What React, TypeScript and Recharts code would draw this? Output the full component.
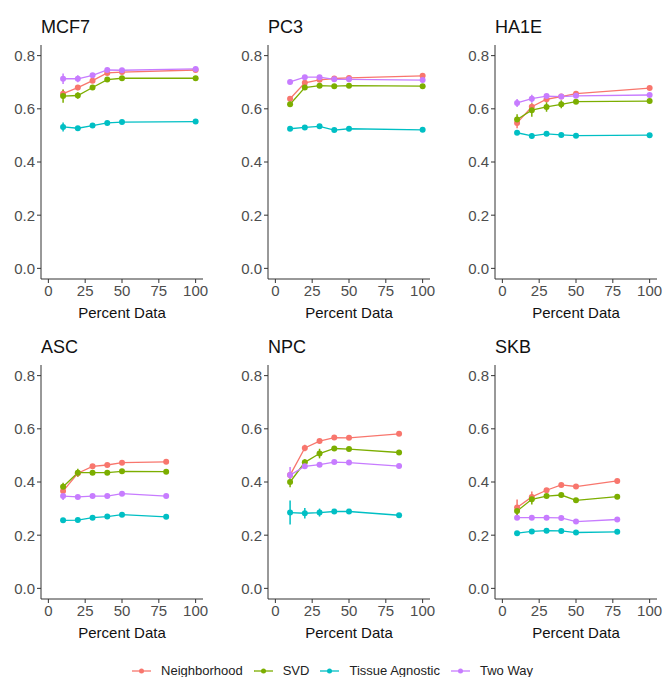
import { ErrorBar, Line, LineChart, XAxis, YAxis } from "recharts";

const FONT = "'Liberation Sans', Arial, sans-serif";

// 面板与各系列的数据
const PANELS = ["MCF7", "PC3", "HA1E", "ASC", "NPC", "SKB"];

const PERCENT = [
  [10, 20, 30, 40, 50, 100],
  [10, 20, 30, 40, 50, 100],
  [10, 20, 30, 40, 50, 100],
  [10, 20, 30, 40, 50, 80],
  [10, 20, 30, 40, 50, 84],
  [10, 20, 30, 40, 50, 78],
];

const NEIGHBORHOOD = [
  [0.657, 0.68, 0.706, 0.735, 0.738, 0.746],
  [0.638, 0.698, 0.709, 0.714, 0.716, 0.724],
  [0.547, 0.608, 0.636, 0.646, 0.657, 0.678],
  [0.366, 0.433, 0.459, 0.464, 0.4725, 0.476],
  [0.426, 0.528, 0.554, 0.567, 0.566, 0.581],
  [0.304, 0.344, 0.369, 0.389, 0.383, 0.404],
];
const SVD = [
  [0.648, 0.65, 0.68, 0.71, 0.715, 0.715],
  [0.617, 0.68, 0.687, 0.685, 0.687, 0.685],
  [0.56, 0.595, 0.607, 0.617, 0.627, 0.629],
  [0.382, 0.435, 0.435, 0.435, 0.44, 0.439],
  [0.4, 0.474, 0.507, 0.526, 0.524, 0.511],
  [0.291, 0.335, 0.347, 0.351, 0.331, 0.345],
];
const TISSUE_AGNOSTIC = [
  [0.532, 0.527, 0.537, 0.547, 0.55, 0.552],
  [0.525, 0.53, 0.534, 0.52, 0.525, 0.521],
  [0.51, 0.498, 0.506, 0.502, 0.499, 0.501],
  [0.256, 0.257, 0.266, 0.27, 0.277, 0.269],
  [0.285, 0.2825, 0.285, 0.289, 0.289, 0.275],
  [0.2075, 0.214, 0.217, 0.216, 0.21, 0.2125],
];
const TWO_WAY = [
  [0.713, 0.713, 0.726, 0.746, 0.745, 0.75],
  [0.701, 0.719, 0.719, 0.711, 0.711, 0.708],
  [0.622, 0.638, 0.648, 0.646, 0.649, 0.652],
  [0.347, 0.344, 0.347, 0.347, 0.356, 0.347],
  [0.426, 0.459, 0.465, 0.475, 0.473, 0.46],
  [0.266, 0.266, 0.266, 0.265, 0.251, 0.259],
];

// 误差线半长
const NEIGHBORHOOD_ERR = [
  [0.015, 0.01, 0.008, 0.005, 0.005, 0.004],
  [0.01, 0.008, 0.005, 0.004, 0.004, 0.004],
  [0.02, 0.012, 0.01, 0.005, 0.005, 0.004],
  [0.01, 0.012, 0.006, 0.005, 0.005, 0.004],
  [0.01, 0.012, 0.008, 0.006, 0.005, 0.004],
  [0.03, 0.02, 0.008, 0.006, 0.005, 0.004],
];
const SVD_ERR = [
  [0.025, 0.012, 0.008, 0.005, 0.004, 0.004],
  [0.01, 0.008, 0.005, 0.004, 0.004, 0.004],
  [0.02, 0.025, 0.018, 0.015, 0.006, 0.004],
  [0.015, 0.015, 0.006, 0.005, 0.004, 0.004],
  [0.02, 0.012, 0.018, 0.008, 0.005, 0.004],
  [0.015, 0.02, 0.006, 0.006, 0.005, 0.004],
];
const TISSUE_AGNOSTIC_ERR = [
  [0.017, 0.006, 0.005, 0.004, 0.004, 0.004],
  [0.006, 0.005, 0.005, 0.004, 0.004, 0.004],
  [0.008, 0.01, 0.006, 0.005, 0.005, 0.004],
  [0.005, 0.005, 0.005, 0.004, 0.004, 0.004],
  [0.045, 0.02, 0.015, 0.008, 0.006, 0.004],
  [0.008, 0.006, 0.006, 0.006, 0.004, 0.004],
];
const TWO_WAY_ERR = [
  [0.02, 0.013, 0.008, 0.005, 0.005, 0.004],
  [0.008, 0.005, 0.005, 0.004, 0.004, 0.004],
  [0.015, 0.015, 0.008, 0.005, 0.005, 0.004],
  [0.015, 0.006, 0.005, 0.005, 0.004, 0.004],
  [0.03, 0.01, 0.006, 0.005, 0.005, 0.004],
  [0.008, 0.008, 0.006, 0.005, 0.004, 0.004],
];

const X_TICKS = [0, 25, 50, 75, 100];
const Y_TICKS = [0, 0.2, 0.4, 0.6, 0.8];

const SERIES = [
  { key: "n", name: "Neighborhood", color: "#F8766D" },
  { key: "s", name: "SVD", color: "#7CAE00" },
  { key: "t", name: "Tissue Agnostic", color: "#00BFC4" },
  { key: "w", name: "Two Way", color: "#C77CFF" },
];

const PLOT_W = 162;
const PLOT_H = 234;
const Y_AXIS_W = 35;
const X_AXIS_H = 45;
const PANEL_LEFT = [41, 268, 495];
const PANEL_TOP = [45, 365];

const AXIS_PROPS = {
  axisLine: { stroke: "#333", strokeWidth: 1 },
  tickLine: { stroke: "#333", strokeWidth: 1 },
  tickSize: 4,
  tick: { fill: "#4D4D4D", fontSize: 15, fontFamily: FONT },
} as const;

function Panel({ index }: { index: number }) {
  const left = PANEL_LEFT[index % 3];
  const top = PANEL_TOP[Math.floor(index / 3)];
  const data = PERCENT[index].map((x, i) => ({
    x,
    n: NEIGHBORHOOD[index][i],
    nE: NEIGHBORHOOD_ERR[index][i],
    s: SVD[index][i],
    sE: SVD_ERR[index][i],
    t: TISSUE_AGNOSTIC[index][i],
    tE: TISSUE_AGNOSTIC_ERR[index][i],
    w: TWO_WAY[index][i],
    wE: TWO_WAY_ERR[index][i],
  }));

  return (
    <>
      <div
        style={{
          position: "absolute",
          left,
          top: top - 27,
          fontSize: 18,
          lineHeight: "18px",
          color: "#111",
        }}
      >
        {PANELS[index]}
      </div>
      <div style={{ position: "absolute", left: left - Y_AXIS_W, top }}>
        <LineChart
          width={Y_AXIS_W + PLOT_W + 12}
          height={PLOT_H + X_AXIS_H}
          data={data}
          margin={{ top: 0, right: 12, bottom: 0, left: 0 }}
        >
          <XAxis
            type="number"
            dataKey="x"
            domain={[-5, 105]}
            ticks={X_TICKS}
            allowDataOverflow
            height={X_AXIS_H}
            {...AXIS_PROPS}
            label={{
              value: "Percent Data",
              position: "insideBottom",
              offset: 6,
              fill: "#111",
              fontSize: 15,
              fontFamily: FONT,
            }}
          />
          <YAxis
            type="number"
            domain={[-0.04, 0.84]}
            ticks={Y_TICKS}
            allowDataOverflow
            width={Y_AXIS_W}
            tickFormatter={(v) => Number(v).toFixed(1)}
            {...AXIS_PROPS}
          />
          {SERIES.map((s) => (
            <Line
              key={s.key}
              type="linear"
              dataKey={s.key}
              stroke={s.color}
              strokeWidth={1.3}
              dot={{ r: 3, fill: s.color, stroke: "none" }}
              activeDot={false}
              isAnimationActive={false}
            >
              <ErrorBar
                dataKey={s.key + "E"}
                direction="y"
                width={0}
                stroke={s.color}
                strokeWidth={1.5}
              />
            </Line>
          ))}
        </LineChart>
      </div>
    </>
  );
}

function LegendKey({ color }: { color: string }) {
  return (
    <svg width={19} height={10} style={{ display: "block" }}>
      <line x1={0} y1={5} x2={19} y2={5} stroke={color} strokeWidth={1.3} />
      <circle cx={9.5} cy={5} r={2.5} fill={color} />
    </svg>
  );
}

export default function App() {
  return (
    <div
      style={{
        position: "absolute",
        left: 0,
        top: 0,
        width: 665,
        height: 677,
        background: "#fff",
        fontFamily: FONT,
        overflow: "hidden",
      }}
    >
      {PANELS.map((_, i) => (
        <Panel key={i} index={i} />
      ))}
      <div
        style={{
          position: "absolute",
          left: 0,
          top: 663,
          width: 665,
          display: "flex",
          justifyContent: "center",
          alignItems: "center",
          fontSize: 13,
          color: "#222",
        }}
      >
        {SERIES.map((s, i) => (
          <div
            key={s.key}
            style={{
              display: "flex",
              alignItems: "center",
              marginLeft: i === 0 ? 0 : 11,
            }}
          >
            <LegendKey color={s.color} />
            <span style={{ marginLeft: 10 }}>{s.name}</span>
          </div>
        ))}
      </div>
    </div>
  );
}
